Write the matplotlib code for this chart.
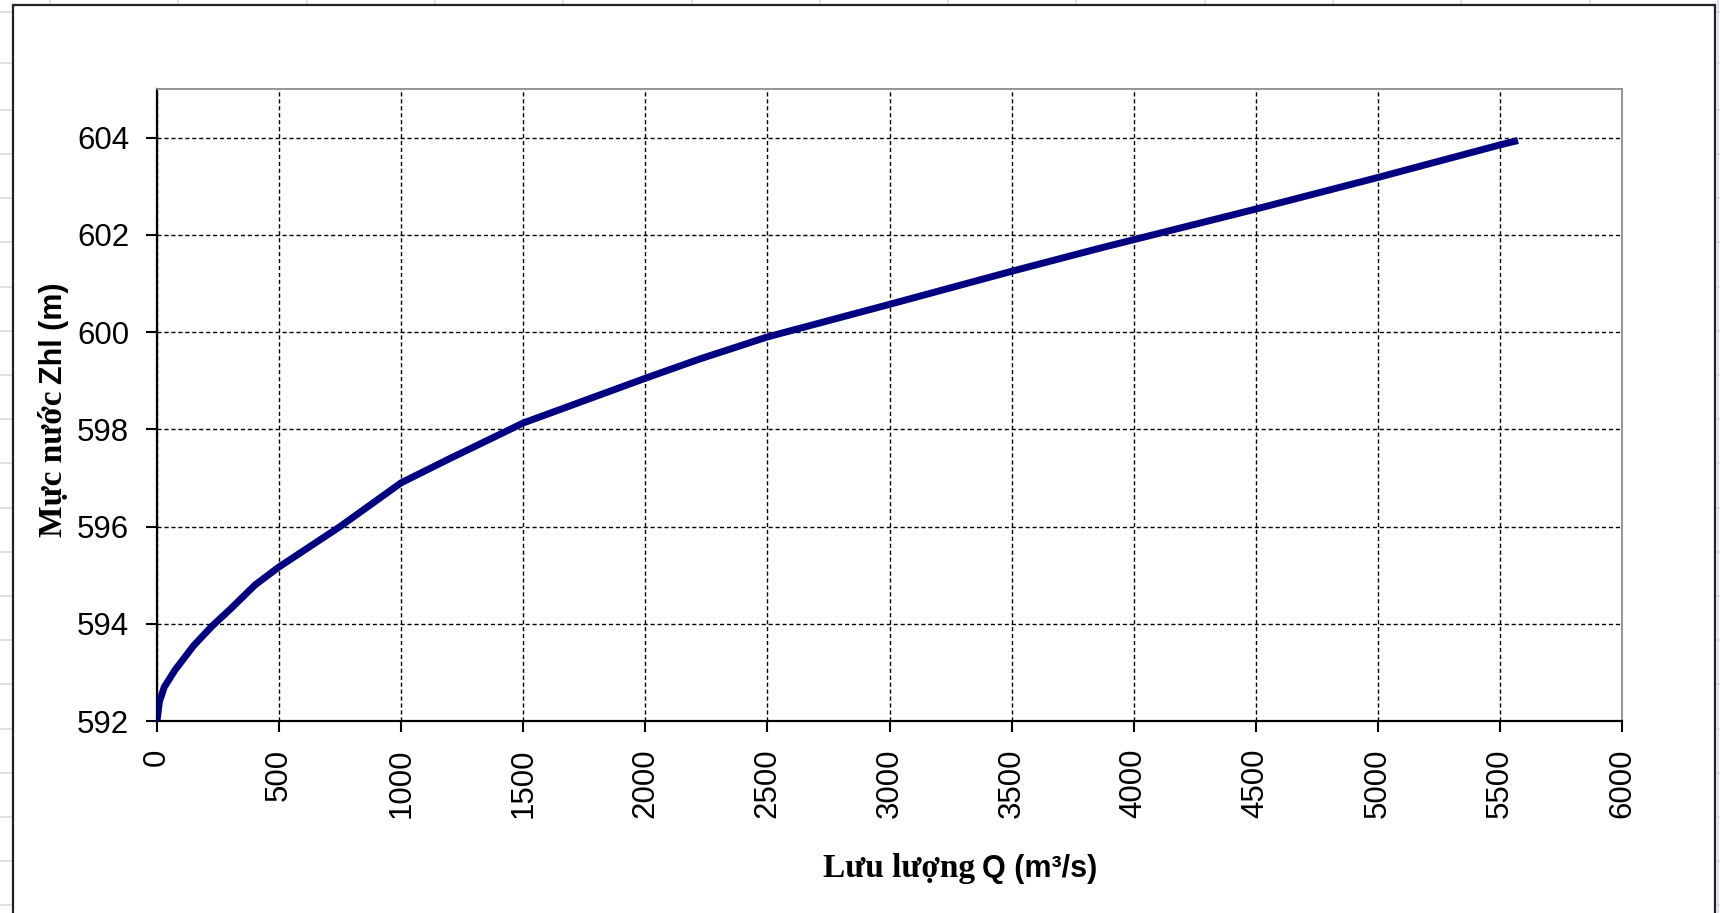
import matplotlib
matplotlib.use("Agg")
import matplotlib.pyplot as plt
from matplotlib.patches import Rectangle
import numpy as np

# Đường quan hệ Q ~ Zhl
luu_luong = [0, 10, 30, 74, 150, 225, 300, 402, 500, 750, 1000, 1200, 1500,
             2000, 2225, 2500, 3000, 3500, 3865, 4000, 4500, 5000, 5500, 5574]
muc_nuoc = [592.0, 592.4, 592.7, 593.05, 593.55, 593.95, 594.3, 594.8, 595.17,
            596.0, 596.9, 597.4, 598.13, 599.05, 599.45, 599.9, 600.57, 601.25,
            601.73, 601.9, 602.53, 603.18, 603.85, 603.94]

x_ticks = list(range(0, 6001, 500))
y_ticks = list(range(592, 605, 2))

W, H = 1720, 913
fig = plt.figure(figsize=(W / 100, H / 100), dpi=100)
fig.patch.set_facecolor("white")


def fx(px):
    return px / W


def fy(py):
    return 1 - py / H


# lưới bảng tính phía sau khung biểu đồ
grid_col = "#d4dbe8"
for gx in np.arange(50, W, 128.3):
    fig.add_artist(plt.Line2D([fx(gx), fx(gx)], [0, 1], color=grid_col, lw=1.2, zorder=0))
for gy in [12, 63, 110] + list(np.arange(154, H, 44.2)):
    fig.add_artist(plt.Line2D([0, 1], [fy(gy), fy(gy)], color=grid_col, lw=1.2, zorder=0))

# khung biểu đồ
fig.add_artist(Rectangle((fx(13), fy(930)), fx(1715) - fx(13), fy(5) - fy(930),
                         transform=fig.transFigure, facecolor="white",
                         edgecolor="#222222", lw=1.6, zorder=1))

ax = fig.add_axes([fx(157), fy(721), fx(1622) - fx(157), fy(89) - fy(721)], zorder=2)
ax.plot(luu_luong, muc_nuoc, color="#000080", lw=5.0, solid_capstyle="butt",
        solid_joinstyle="round", zorder=3)

ax.set_xlim(0, 6000)
ax.set_ylim(592, 605)
ax.set_xticks(x_ticks)
ax.set_yticks(y_ticks)
ax.set_xticklabels([str(v) for v in x_ticks], rotation=90)
ax.grid(True, color="black", linestyle=(0, (3, 2)), lw=1.0)
ax.set_axisbelow(True)

for s in ["left", "bottom"]:
    ax.spines[s].set_color("black")
    ax.spines[s].set_linewidth(1.6)
for s in ["top", "right"]:
    ax.spines[s].set_color("#8c8c8c")
    ax.spines[s].set_linewidth(1.3)

ax.tick_params(axis="both", direction="out", length=8, width=1.5, color="black",
               labelsize=22.5, pad=12)
for lab in ax.get_xticklabels() + ax.get_yticklabels():
    lab.set_fontfamily("Liberation Sans")

# nhãn trục: chữ Việt kiểu serif, ký hiệu kiểu sans (như Excel)
r = fig.canvas.get_renderer()


def nhan_ghep(parts, x0, y0, vertical=False, gap=7):
    pos = x0 if not vertical else y0
    for txt, fam, size in parts:
        if vertical:
            t = fig.text(fx(x0), fy(pos), txt, family=fam, weight="bold", size=size,
                         rotation=90, rotation_mode="anchor", ha="left", va="baseline")
            bb = t.get_window_extent(renderer=r)
            pos -= bb.height + gap
        else:
            t = fig.text(fx(pos), fy(y0), txt, family=fam, weight="bold", size=size,
                         ha="left", va="baseline")
            bb = t.get_window_extent(renderer=r)
            pos += bb.width + gap


nhan_ghep([("Lưu lượng", "Liberation Serif", 24), ("Q (m³/s)", "Liberation Sans", 22)],
          823, 877)
nhan_ghep([("Mực nước", "Liberation Serif", 24), ("Zhl (m)", "Liberation Sans", 22)],
          62, 537, vertical=True)

fig.savefig("out.png", dpi=100)
